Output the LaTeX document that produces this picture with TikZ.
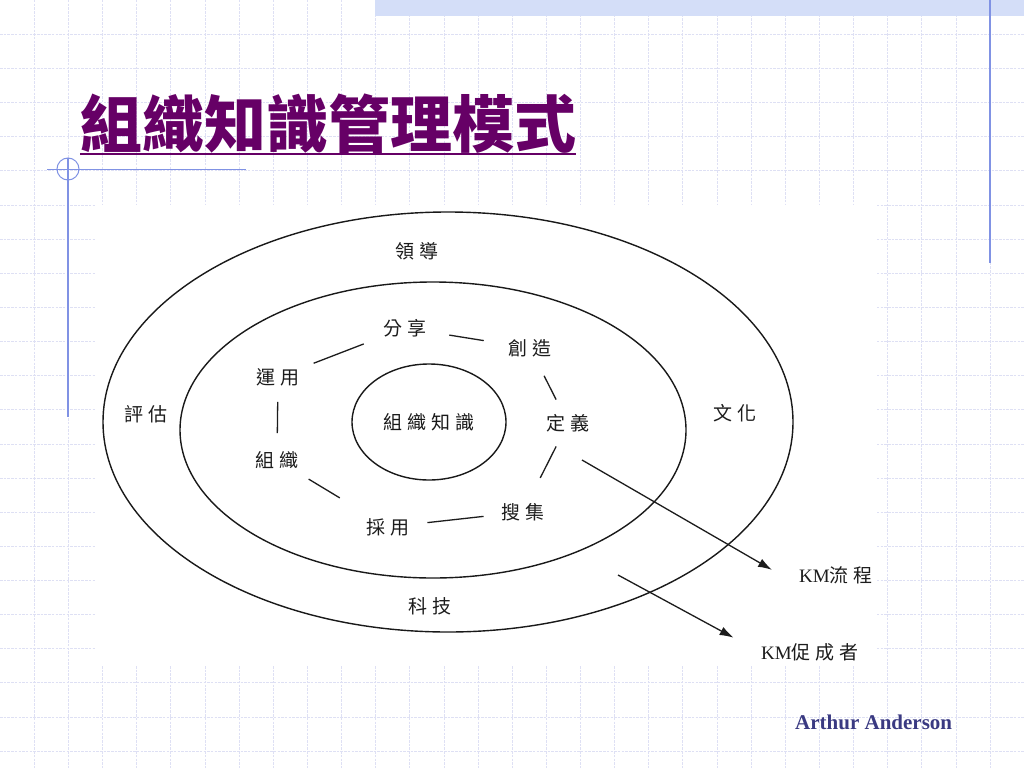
\documentclass[tikz,border=0pt]{standalone}
\usepackage{fontspec}
\usetikzlibrary{arrows.meta,positioning,shapes.geometric}
\setmainfont{Liberation Serif}
\newfontfamily\cjk[LetterSpace=25]{Noto Sans CJK TC}
\newfontfamily\cjktitle{Noto Sans CJK TC}
\definecolor{titlepurple}{RGB}{102,0,102}
\definecolor{gridline}{RGB}{222,224,244}
\definecolor{ruleblue}{RGB}{128,146,228}
\definecolor{bandblue}{RGB}{212,222,248}
\definecolor{authorblue}{RGB}{58,58,130}
\definecolor{inkgray}{RGB}{28,28,28}

\begin{document}
\begin{tikzpicture}[x=1pt,y=-1pt,lbl/.style={inner sep=1pt,text=inkgray,font=\fontsize{19}{19}\selectfont\cjk},link/.style={line width=1.3pt,inkgray},arr/.style={-{Latex[length=14pt,width=9pt]},line width=1.3pt,inkgray},ring/.style={draw,line width=1.4pt,black!90}]
\useasboundingbox (0,0) rectangle (1024,768);
% slide background
\fill[white] (0,0) rectangle (1024,768);
\foreach \i in {1,...,29} \draw[gridline,dash pattern=on 2.5pt off 1.2pt] ({\i*34.1333},0) -- ({\i*34.1333},768);
\foreach \j in {1,...,22} \draw[gridline,dash pattern=on 2.5pt off 1.2pt] (0,{\j*34.1333}) -- (1024,{\j*34.1333});
\fill[bandblue] (375,0) rectangle (1024,16);
\draw[ruleblue,line width=1.6pt] (990,0) -- (990,263);
\draw[ruleblue,line width=1pt] (47,169) -- (246,169);
\draw[ruleblue,line width=1pt] (68,169) circle[radius=11pt];
\draw[ruleblue,line width=1.6pt] (68,158) -- (68,417);
\node[anchor=west,inner sep=0,text=titlepurple,font=\fontsize{62}{62}\selectfont\cjktitle\bfseries] (title) at (80,124) {組織知識管理模式};
\draw[titlepurple,line width=2.6pt] (title.south west) -- (title.south east);
\node[anchor=west,inner sep=0,text=authorblue,font=\fontsize{21}{21}\selectfont\bfseries] (author) at (795,722) {Arthur Anderson};
% diagram
\fill[white] (95,205) rectangle (877,666);
\draw[ring] (448,422) ellipse[x radius=345pt,y radius=210pt];
\draw[ring] (433,430) ellipse[x radius=253pt,y radius=148pt];
\node[lbl,ring,ellipse,minimum width=154pt,minimum height=116pt,inner sep=0] (core) at (429,422) {組織知識};
\node[lbl] (lead) at (417,251) {領導};
\node[lbl] (assess) at (146,414) {評估};
\node[lbl] (culture) at (735,413) {文化};
\node[lbl] (tech) at (430,606) {科技};
\node[lbl] (share) at (405,328) {分享};
\node[lbl] (create) at (530,348) {創造};
\node[lbl] (define) at (568,423) {定義};
\node[lbl] (collect) at (523,512) {搜集};
\node[lbl] (adopt) at (388,527) {採用};
\node[lbl] (organize) at (277,460) {組織};
\node[lbl] (apply) at (278,377) {運用};
\node[lbl,anchor=west] (kmflow) at (798,575) {{\rmfamily KM}流程};
\node[lbl,anchor=west] (kmaid) at (760,652) {{\rmfamily KM}促成者};
\draw[link,shorten <=22pt,shorten >=24pt] (share) -- (create);
\draw[link,shorten <=20pt,shorten >=15pt] (create) -- (define);
\draw[link,shorten <=15pt,shorten >=27pt] (define) -- (collect);
\draw[link,shorten <=17pt,shorten >=17pt] (collect) -- (adopt);
\draw[link,shorten <=37pt,shorten >=18pt] (adopt) -- (organize);
\draw[link,shorten <=17pt,shorten >=15pt] (organize) -- ([xshift=9pt]apply);
\draw[link,shorten <=14pt,shorten >=20pt] (apply) -- (share);
\coordinate (flowtail) at (582,460);
\coordinate (aidtail) at (618,575);
\draw[arr,shorten >=30pt] (flowtail) -- (kmflow.south west);
\draw[arr,shorten >=30pt] (aidtail) -- (kmaid.west);
\end{tikzpicture}
\end{document}
